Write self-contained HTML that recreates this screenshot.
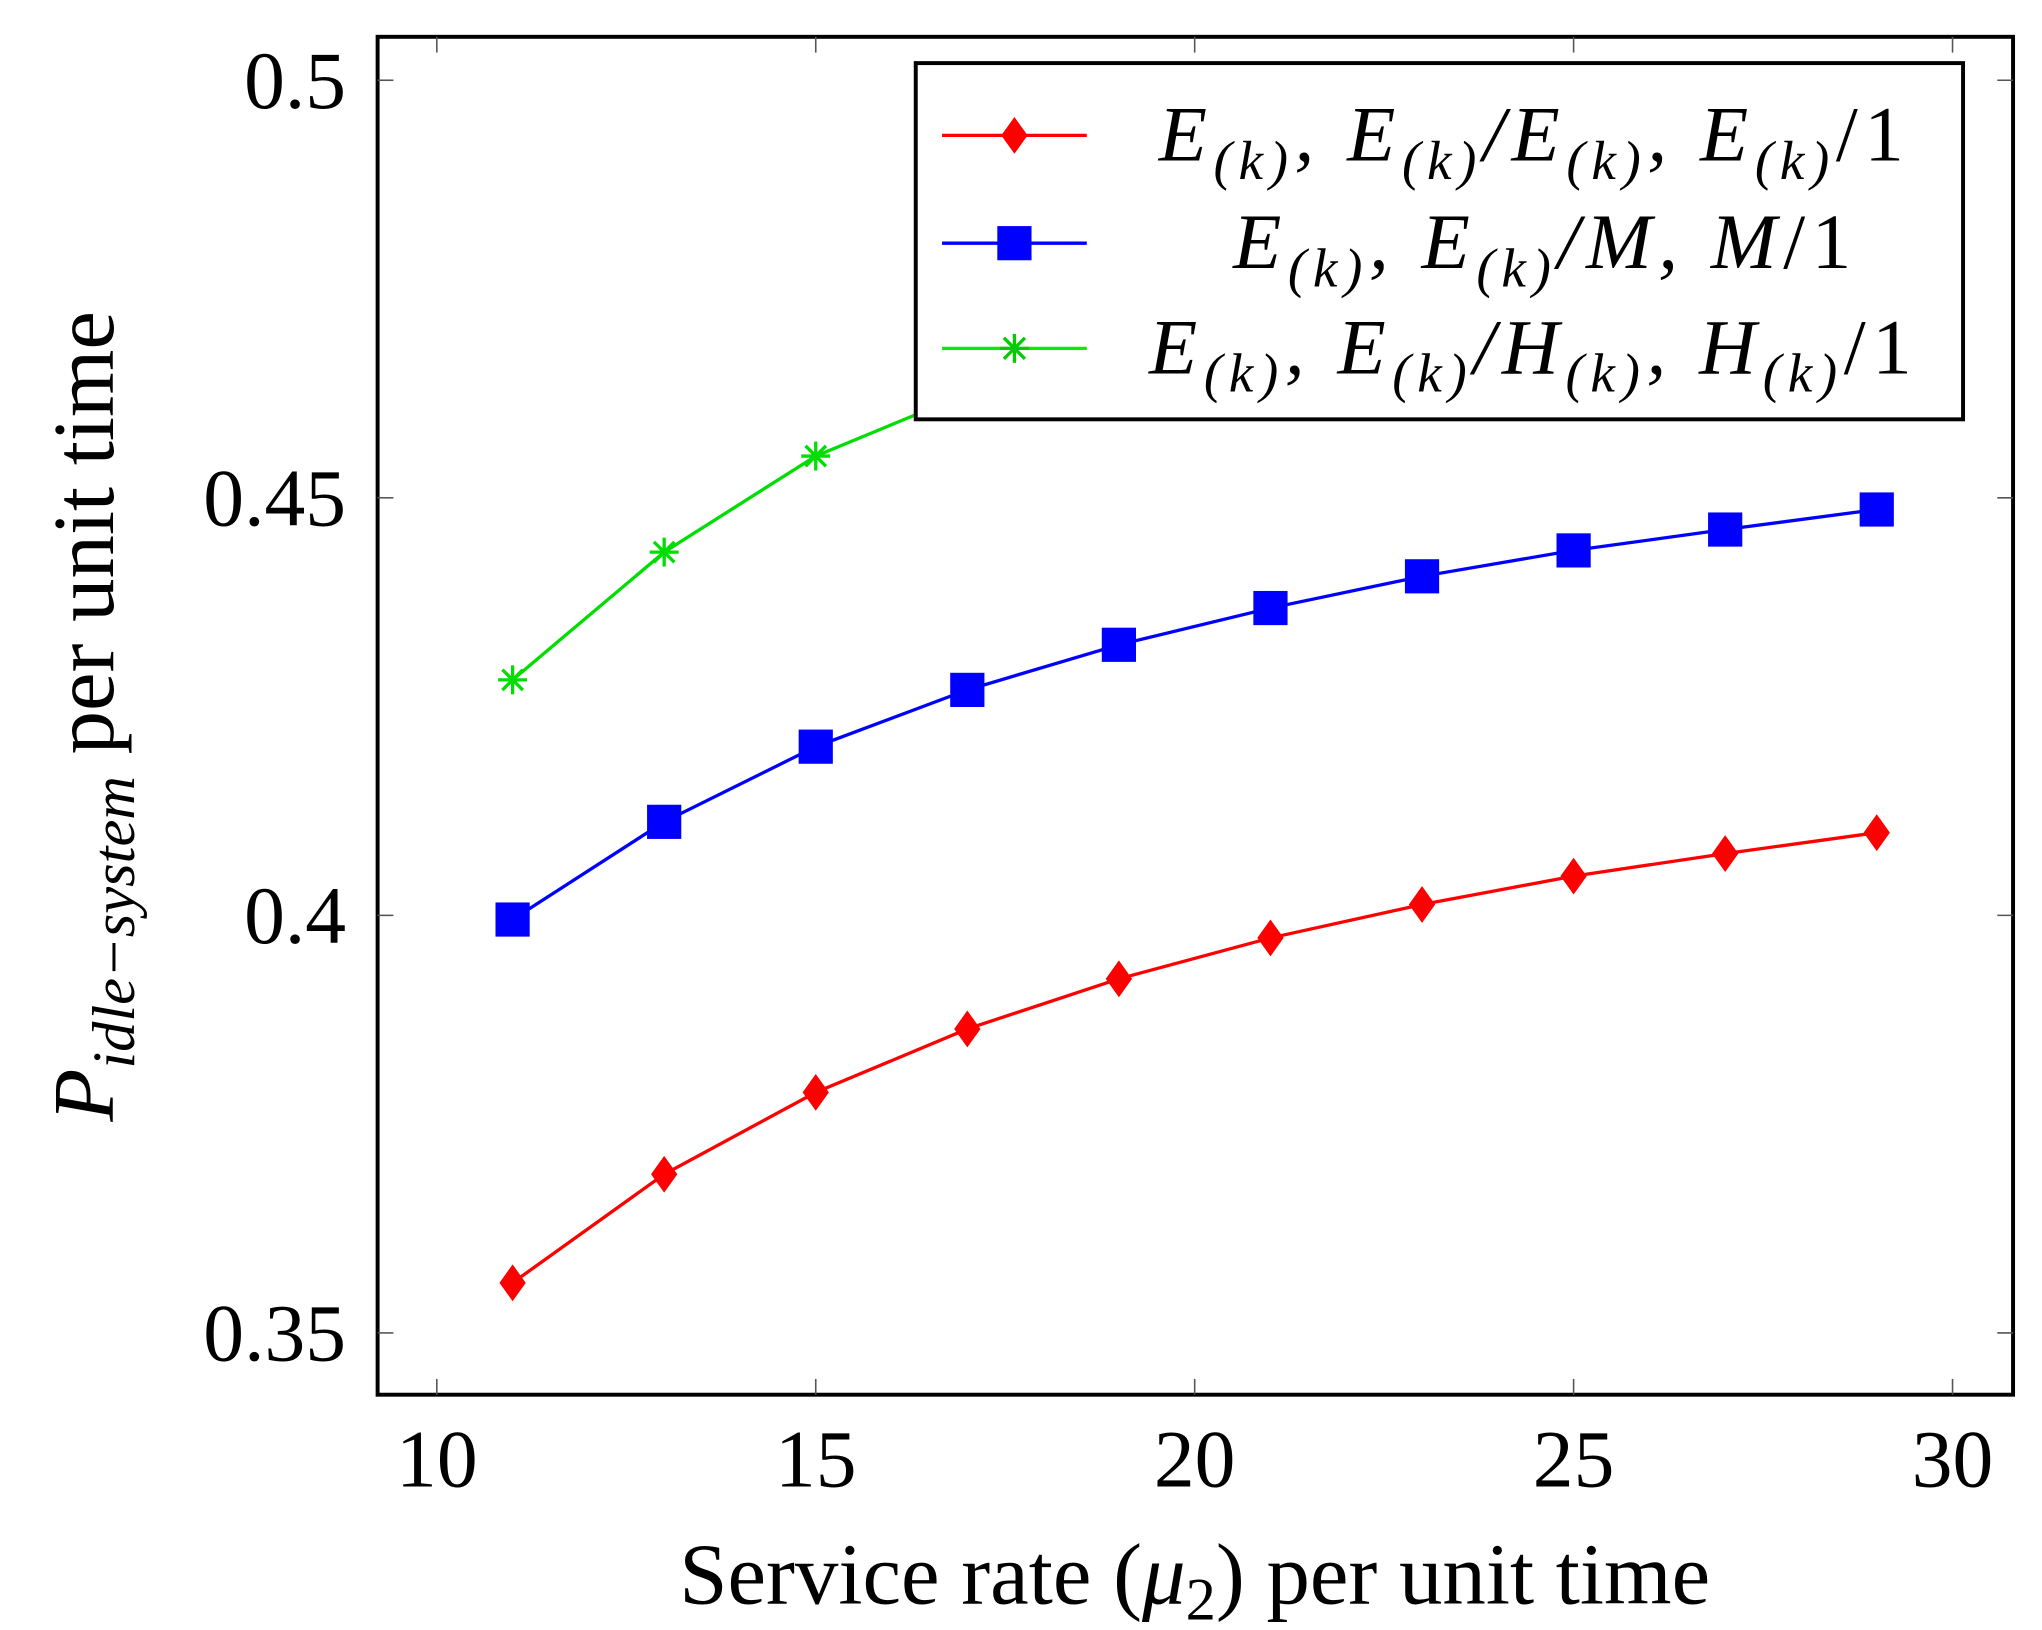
<!DOCTYPE html>
<html><head><meta charset="utf-8"><style>
html,body{margin:0;padding:0;background:#fff;}
svg{display:block;}
text{font-family:"Liberation Serif",serif;fill:#000;}
</style></head><body>
<svg id="chart" width="2042" height="1630" viewBox="0 0 1552 1240" preserveAspectRatio="none" xmlns="http://www.w3.org/2000/svg">
<g id="axes"></g>
<g id="series"></g>
<g id="legend">
<rect x="696" y="48" width="796" height="271" fill="#fff" stroke="#000" stroke-width="3"/>
<g>
<line x1="716" y1="103" x2="826" y2="103" stroke="#f00" stroke-width="2.5"/>
<polygon points="771,89 781,103 771,117 761,103" fill="#f00"/>
<text x="1452" y="122" font-size="60" font-style="italic" letter-spacing="5" text-anchor="end">E<tspan font-size="42" dy="14">(k)</tspan><tspan dy="-14">, E</tspan><tspan font-size="42" dy="14">(k)</tspan><tspan dy="-14">/E</tspan><tspan font-size="42" dy="14">(k)</tspan><tspan dy="-14">, E</tspan><tspan font-size="42" dy="14">(k)</tspan><tspan dy="-14" font-style="normal">/1</tspan></text>
</g>
<g>
<line x1="716" y1="185" x2="826" y2="185" stroke="#00f" stroke-width="2.5"/>
<rect x="758" y="172" width="26" height="26" fill="#00f"/>
<text x="1412" y="204" font-size="60" font-style="italic" letter-spacing="5" text-anchor="end">E<tspan font-size="42" dy="14">(k)</tspan><tspan dy="-14">, E</tspan><tspan font-size="42" dy="14">(k)</tspan><tspan dy="-14">/M, M</tspan><tspan font-style="normal">/1</tspan></text>
</g>
<g>
<line x1="716" y1="265" x2="826" y2="265" stroke="#0e0" stroke-width="2.5"/>
<g stroke="#0c0" stroke-width="2.5"><line x1="760" y1="265" x2="782" y2="265"/><line x1="771" y1="254" x2="771" y2="276"/><line x1="763" y1="257" x2="779" y2="273"/><line x1="763" y1="273" x2="779" y2="257"/></g>
<text x="1458" y="284" font-size="60" font-style="italic" letter-spacing="5" text-anchor="end">E<tspan font-size="42" dy="14">(k)</tspan><tspan dy="-14">, E</tspan><tspan font-size="42" dy="14">(k)</tspan><tspan dy="-14">/H</tspan><tspan font-size="42" dy="14">(k)</tspan><tspan dy="-14">, H</tspan><tspan font-size="42" dy="14">(k)</tspan><tspan dy="-14" font-style="normal">/1</tspan></text>
</g>
</g>
<text x="908" y="1220" font-size="66" text-anchor="middle">Service rate (<tspan font-style="italic">μ</tspan><tspan font-size="46" dy="12">2</tspan><tspan dy="-12">) per unit time</tspan></text>
<text transform="translate(86,545) rotate(-90)" font-size="66" text-anchor="middle"><tspan font-style="italic">P</tspan><tspan font-style="italic" font-size="46" dy="16">idle−system</tspan><tspan dy="-16"> per unit time</tspan></text>
</svg>
<script>
const xValues=[11,13,15,17,19,21,23,25,27,29];
const redValues=[0.356,0.369,0.3788,0.3864,0.3924,0.3973,0.4013,0.4047,0.4074,0.4099];
const blueValues=[0.3995,0.4112,0.4202,0.427,0.4324,0.4368,0.4406,0.4437,0.4462,0.4486];
const greenValues=[0.4282,0.4435,0.455,0.4625,0.468,0.472,0.4755,0.478,0.480,0.482];
const xTicks=[10,15,20,25,30];
const yTicks=[0.35,0.4,0.45,0.5];
const yTickLabels=["0.35","0.4","0.45","0.5"];
const NS="http://www.w3.org/2000/svg";
const L=287,R=1530,T=28,B=1061;
function xs(v){return 332+(v-10)*57.6;}
function ys(v){return 1014-(v-0.35)*6353;}
function mk(tag,attrs,parent){const e=document.createElementNS(NS,tag);for(const k in attrs)e.setAttribute(k,attrs[k]);parent.appendChild(e);return e;}
const axes=document.getElementById('axes');
const box=mk('rect',{x:L,y:T,width:R-L,height:B-T,fill:'none',stroke:'#000','stroke-width':3},axes);


xTicks.forEach(t=>{
 const x=xs(t);
 mk('line',{x1:x,y1:B,x2:x,y2:B-12,stroke:'#555','stroke-width':1.2},axes);
 mk('line',{x1:x,y1:T,x2:x,y2:T+12,stroke:'#555','stroke-width':1.2},axes);
 const tx=mk('text',{x:x,y:B+70,'font-size':62,'text-anchor':'middle'},axes);
 tx.textContent=t;
 
 
});
yTicks.forEach((t,i)=>{
 const y=ys(t);
 mk('line',{x1:L,y1:y,x2:L+12,y2:y,stroke:'#555','stroke-width':1.2},axes);
 mk('line',{x1:R,y1:y,x2:R-12,y2:y,stroke:'#555','stroke-width':1.2},axes);
 const tx=mk('text',{x:L-24,y:y+21,'font-size':62,'text-anchor':'end'},axes);
 tx.textContent=yTickLabels[i];
 
 
});
const series=document.getElementById('series');
function draw(vals,color,type,name){
 const g=mk('g',{},series);
 
 
 const pts=xValues.map((x,i)=>xs(x)+','+ys(vals[i])).join(' ');
 const pl=mk('polyline',{points:pts,fill:'none',stroke:color,'stroke-width':2.5},g);
 
 
 xValues.forEach((x,i)=>{
  const cx=xs(x),cy=ys(vals[i]);let m;
  if(type==='diamond'){m=mk('polygon',{points:`${cx},${cy-14} ${cx+10},${cy} ${cx},${cy+14} ${cx-10},${cy}`,fill:color},g);}
  else if(type==='square'){m=mk('rect',{x:cx-13,y:cy-13,width:26,height:26,fill:color},g);}
  else{m=mk('g',{},g);for(let a=0;a<4;a++){const an=a*Math.PI/4;mk('line',{x1:cx-11*Math.cos(an),y1:cy-11*Math.sin(an),x2:cx+11*Math.cos(an),y2:cy+11*Math.sin(an),stroke:color,'stroke-width':2.5},m);}}
  
  
 });
}
draw(greenValues,'#00dd00','star','series-green');
draw(redValues,'#ff0000','diamond','series-red');
draw(blueValues,'#0000ff','square','series-blue');
document.getElementById('chart').appendChild(document.getElementById('legend'));
</script>
</body></html>
